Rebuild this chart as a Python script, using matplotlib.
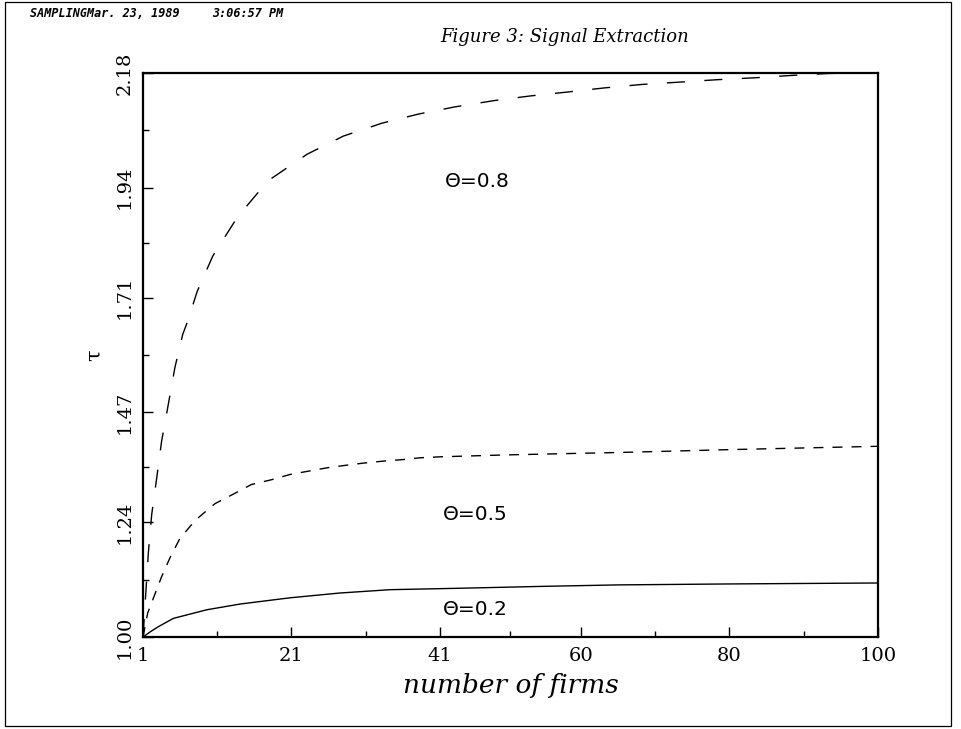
import matplotlib
matplotlib.use('Agg')
import matplotlib.pyplot as plt
from matplotlib.patches import Rectangle

# Valores (número de firmas x T)
n_08 = [1, 1.72, 2.17, 2.85, 3.5, 4.4, 5.3, 6.35, 7.0, 8.3, 10.4, 13.7, 17.8, 23.1,
        28, 33.2, 38.1, 43, 48.2, 53.2, 58.1, 63.3, 68.2, 73.4, 78.4, 83.5, 88.5,
        93.3, 98.3, 100]
t_08 = [1.00, 1.176, 1.256, 1.333, 1.409, 1.486, 1.564, 1.633, 1.66, 1.723, 1.797,
        1.878, 1.954, 2.010, 2.048, 2.075, 2.094, 2.109, 2.122, 2.132, 2.140, 2.149,
        2.156, 2.161, 2.166, 2.170, 2.175, 2.179, 2.180, 2.180]

n_05 = [1, 1.63, 3.5, 4.7, 6.0, 8.1, 10.7, 13.3, 15.6, 18.3, 20.8, 23.3, 25.8, 28.2,
        30.8, 33.4, 35.9, 38.4, 41.1, 50, 65, 80, 100]
t_05 = [1.00, 1.05, 1.126, 1.168, 1.207, 1.245, 1.279, 1.300, 1.319, 1.329, 1.340,
        1.347, 1.354, 1.359, 1.364, 1.368, 1.371, 1.375, 1.377, 1.381, 1.386, 1.392,
        1.399]

n_02 = [1, 2, 3, 5.1, 9.6, 14.1, 20.8, 27.5, 34.3, 43.7, 55, 65, 80, 100]
t_02 = [1.00, 1.011, 1.021, 1.039, 1.057, 1.069, 1.082, 1.092, 1.099, 1.102, 1.106,
        1.109, 1.111, 1.113]

x_ticks = [1, 21, 41, 60, 80, 100]
y_ticks = [1.00, 1.24, 1.47, 1.71, 1.94, 2.18]
y_labels = ['1.00', '1.24', '1.47', '1.71', '1.94', '2.18']

rotulos = ['\u0398=0.8', '\u0398=0.5', '\u0398=0.2']
rotulo_x = [41.6, 41.4, 41.4]
rotulo_y = [1.952, 1.256, 1.057]

fig = plt.figure(figsize=(9.61, 7.29), dpi=100)
ax = fig.add_axes([0.1488, 0.1262, 0.7648, 0.7737])

ax.plot(n_08, t_08, color='black', lw=1.0, dashes=(13, 14))
ax.plot(n_05, t_05, color='black', lw=1.0, dashes=(7.2, 6.5))
ax.plot(n_02, t_02, color='black', lw=1.0)

ax.set_xlim(1, 100)
ax.set_ylim(1.00, 2.18)

ax.set_xticks(x_ticks)
ax.set_xticklabels([str(v) for v in x_ticks], family='DejaVu Serif', fontsize=14)
ax.set_xticks([(a + b) / 2 for a, b in zip(x_ticks[:-1], x_ticks[1:])], minor=True)
ax.set_yticks(y_ticks)
ax.set_yticklabels(y_labels, family='DejaVu Serif', fontsize=14, rotation=90, va='center')
ax.set_yticks([(a + b) / 2 for a, b in zip(y_ticks[:-1], y_ticks[1:])], minor=True)

ax.tick_params(which='major', direction='in', length=7, width=1, pad=7)
ax.tick_params(which='minor', direction='in', length=4, width=1)
for s in ax.spines.values():
    s.set_linewidth(1.6)

for txt, xx, yy in zip(rotulos, rotulo_x, rotulo_y):
    ax.text(xx, yy, txt, fontsize=14.5, family='DejaVu Sans', ha='left', va='center')

ax.set_xlabel('number of firms', family='DejaVu Serif', style='italic', fontsize=19, labelpad=6)
ax.set_ylabel('\u03c4', family='DejaVu Serif', fontsize=15, labelpad=8)

fig.text(0.588, 0.949, 'Figure 3: Signal Extraction', family='DejaVu Serif',
         style='italic', fontsize=13, ha='center', va='center')
fig.text(0.031, 0.981, 'SAMPLINGMar. 23, 1989', family='DejaVu Sans Mono', style='italic',
         weight='bold', fontsize=8.5, ha='left', va='center')
fig.text(0.221, 0.981, '3:06:57 PM', family='DejaVu Sans Mono', style='italic',
         weight='bold', fontsize=8.5, ha='left', va='center')

# moldura externa
fig.patches.append(Rectangle((0.0052, 0.004), 0.9844, 0.993, transform=fig.transFigure,
                             fill=False, edgecolor='black', lw=0.9))

fig.savefig('out.png', dpi=100)
